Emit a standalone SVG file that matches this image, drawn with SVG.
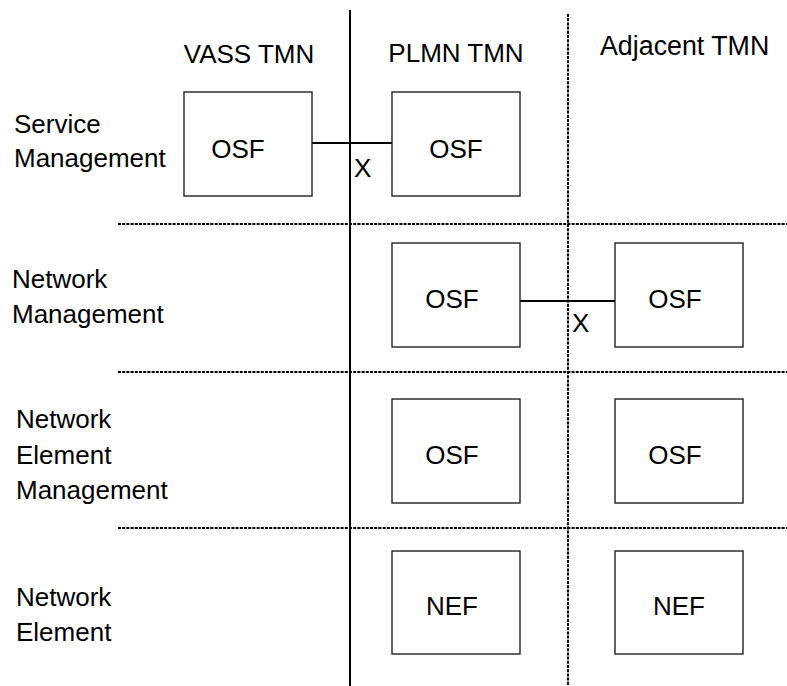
<svg xmlns="http://www.w3.org/2000/svg" width="787" height="686" viewBox="0 0 787 686">
<style>
text{font-family:"Liberation Sans",Arial,Helvetica,sans-serif;font-size:26px;fill:#000}
.box{fill:#fff;stroke:#222;stroke-width:1.4}
.dot{stroke:#000;stroke-width:2;stroke-dasharray:3 1.2;fill:none}
.solid{stroke:#000;stroke-width:2;fill:none}
.conn{stroke:#000;stroke-width:2;fill:none}
.c{text-anchor:middle}
</style>
<rect width="787" height="686" fill="#fff"/>
<g id="grid">
<line class="solid" x1="350" y1="10" x2="350" y2="686"/>
<line class="dot" x1="568" y1="14" x2="568" y2="686"/>
<line class="dot" x1="118" y1="224" x2="787" y2="224"/>
<line class="dot" x1="118" y1="372" x2="787" y2="372"/>
<line class="dot" x1="118" y1="528" x2="787" y2="528"/>
</g>
<g id="headers">
<text x="249" y="63" class="c">VASS TMN</text>
<text x="456" y="62" class="c">PLMN TMN</text>
<text x="600" y="55" style="font-size:26.8px">Adjacent TMN</text>
</g>
<g id="rowlabels">
<text x="14" y="133">Service</text>
<text x="14" y="167">Management</text>
<text x="12" y="288">Network</text>
<text x="12" y="323">Management</text>
<text x="16" y="428">Network</text>
<text x="16" y="464">Element</text>
<text x="16" y="499">Management</text>
<text x="16" y="606">Network</text>
<text x="16" y="641">Element</text>
</g>
<g id="connectors">
<line class="conn" x1="312" y1="143" x2="392" y2="143"/>
<line class="conn" x1="520" y1="301" x2="615" y2="301"/>
<text x="354" y="177">X</text>
<text x="572" y="332">X</text>
</g>
<g id="vass-osf"><rect class="box" x="184" y="92" width="128" height="104"/><text x="238" y="158" class="c">OSF</text></g>
<g id="plmn-sm-osf"><rect class="box" x="392" y="92" width="128" height="104"/><text x="456" y="158" class="c">OSF</text></g>
<g id="plmn-nm-osf"><rect class="box" x="392" y="243" width="128" height="104"/><text x="452" y="308" class="c">OSF</text></g>
<g id="adj-nm-osf"><rect class="box" x="615" y="243" width="128" height="104"/><text x="675" y="308" class="c">OSF</text></g>
<g id="plmn-nem-osf"><rect class="box" x="392" y="399" width="128" height="104"/><text x="452" y="464" class="c">OSF</text></g>
<g id="adj-nem-osf"><rect class="box" x="615" y="399" width="128" height="104"/><text x="675" y="464" class="c">OSF</text></g>
<g id="plmn-nef"><rect class="box" x="392" y="551" width="128" height="103"/><text x="452" y="615" class="c">NEF</text></g>
<g id="adj-nef"><rect class="box" x="615" y="551" width="128" height="103"/><text x="679" y="615" class="c">NEF</text></g>
</svg>
